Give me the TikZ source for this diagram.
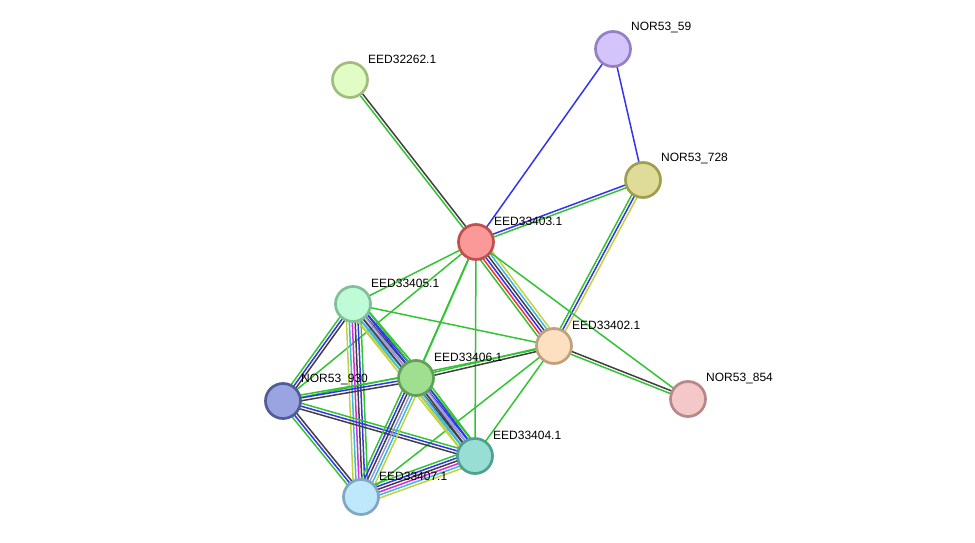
\documentclass[tikz,border=0pt]{standalone}
\usepackage{fontspec}
\setmainfont{Liberation Sans}
\usetikzlibrary{calc}
\pgfdeclarelayer{bg}
\pgfsetlayers{bg,main}
\definecolor{cgreen}{RGB}{51,196,51}
\definecolor{cgray}{RGB}{64,64,64}
\definecolor{cblue}{RGB}{51,51,240}
\definecolor{cred}{RGB}{245,50,50}
\definecolor{ccyan}{RGB}{60,185,225}
\definecolor{cmag}{RGB}{220,40,220}
\definecolor{cyel}{RGB}{195,210,60}
\definecolor{clav}{RGB}{150,150,220}
\tikzset{
  prot/.style={circle,minimum size=35pt,inner sep=0pt,line width=2.7pt},
  lbl/.style={anchor=west,inner sep=0pt,font=\fontsize{12}{14}\selectfont,text=black},
  ed/.style={line width=1.5pt}
}
\newcommand\edgec[3]{%
  \def\nn{0}%
  \foreach \c in {#3} {\xdef\nn{\the\numexpr\nn+1\relax}}%
  \foreach \c [count=\i] in {#3} {%
    \pgfmathsetmacro\o{(\i-(\nn+1)/2)*2.9}%
    \draw[ed,color=\c] ($(#1)!\o pt!90:(#2)$) -- ($(#2)!\o pt!-90:(#1)$);%
  }%
}
\begin{document}
\begin{tikzpicture}[x=1pt,y=-1pt]
\useasboundingbox (0,0) rectangle (975,543);
\node[prot,draw={rgb,255:red,150;green,128;blue,196},fill={rgb,255:red,212;green,196;blue,252}] (n59) at (613,49) {};
\node[prot,draw={rgb,255:red,160;green,189;blue,128},fill={rgb,255:red,225;green,252;blue,197}] (n262) at (350,80) {};
\node[prot,draw={rgb,255:red,160;green,158;blue,80},fill={rgb,255:red,222;green,220;blue,152}] (n728) at (643,180) {};
\node[prot,draw={rgb,255:red,192;green,80;blue,80},fill={rgb,255:red,251;green,152;blue,152}] (n403) at (476,242) {};
\node[prot,draw={rgb,255:red,128;green,191;blue,152},fill={rgb,255:red,192;green,251;blue,216}] (n405) at (353,304) {};
\node[prot,draw={rgb,255:red,192;green,160;blue,128},fill={rgb,255:red,253;green,224;blue,192}] (n402) at (554,346) {};
\node[prot,draw={rgb,255:red,96;green,160;blue,88},fill={rgb,255:red,160;green,222;blue,144}] (n406) at (416,378) {};
\node[prot,draw={rgb,255:red,80;green,92;blue,152},fill={rgb,255:red,154;green,164;blue,224}] (n930) at (283,401) {};
\node[prot,draw={rgb,255:red,184;green,136;blue,136},fill={rgb,255:red,244;green,200;blue,200}] (n854) at (688,399) {};
\node[prot,draw={rgb,255:red,80;green,160;blue,144},fill={rgb,255:red,152;green,222;blue,212}] (n404) at (475,456) {};
\node[prot,draw={rgb,255:red,128;green,168;blue,192},fill={rgb,255:red,192;green,232;blue,252}] (n407) at (361,497) {};
\begin{pgfonlayer}{bg}
\edgec{n59}{n403}{cblue}
\edgec{n59}{n728}{cblue}
\edgec{n262}{n403}{cgreen,cgray}
\edgec{n403}{n728}{cgreen,cblue}
\edgec{n728}{n402}{cgreen,cblue,cyel}
\edgec{n403}{n402}{cgreen,cred,cblue,cgray,ccyan,cyel}
\edgec{n403}{n405}{cgreen}
\draw[cgreen,line width=2pt] (n403) -- (n406);
\edgec{n403}{n930}{cgreen}
\edgec{n403}{n404}{cgreen}
\edgec{n403}{n854}{cgreen}
\edgec{n402}{n854}{cgreen,cgray}
\edgec{n405}{n402}{cgreen}
\edgec{n406}{n402}{cgray,cgreen}
\edgec{n930}{n402}{cgreen}
\edgec{n402}{n404}{cgreen}
\edgec{n402}{n407}{cgreen}
\edgec{n930}{n405}{cgray,cblue,cgreen}
\edgec{n405}{n406}{cyel,ccyan,clav,cgray,cblue,cgreen}
\edgec{n405}{n407}{cyel,ccyan,cmag,cgray,cblue,cgreen}
\edgec{n405}{n404}{cyel,ccyan,cgray,clav,cblue,cgreen}
\edgec{n930}{n406}{cgray,cblue,cgreen}
\edgec{n930}{n404}{cgray,cblue,cgreen}
\edgec{n930}{n407}{cgreen,cblue,cgray}
\edgec{n406}{n404}{cyel,ccyan,cgray,clav,cblue,cgreen}
\edgec{n406}{n407}{cgreen,cblue,cgray,clav,ccyan,cyel}
\edgec{n404}{n407}{cgreen,cblue,cgray,cmag,ccyan,cyel}
\end{pgfonlayer}
\node[lbl] (t59) at ($(n59)+(18,-21)$) {NOR53\_59};
\node[lbl] (t262) at ($(n262)+(18,-21)$) {EED32262.1};
\node[lbl] (t728) at ($(n728)+(18,-21)$) {NOR53\_728};
\node[lbl] (t403) at ($(n403)+(18,-21)$) {EED33403.1};
\node[lbl] (t405) at ($(n405)+(18,-21)$) {EED33405.1};
\node[lbl] (t402) at ($(n402)+(18,-21)$) {EED33402.1};
\node[lbl] (t406) at ($(n406)+(18,-21)$) {EED33406.1};
\node[lbl] (t930) at ($(n930)+(18,-21)$) {NOR53\_930};
\node[lbl] (t854) at ($(n854)+(18,-21)$) {NOR53\_854};
\node[lbl] (t404) at ($(n404)+(18,-21)$) {EED33404.1};
\node[lbl] (t407) at ($(n407)+(18,-21)$) {EED33407.1};
\end{tikzpicture}
\end{document}
